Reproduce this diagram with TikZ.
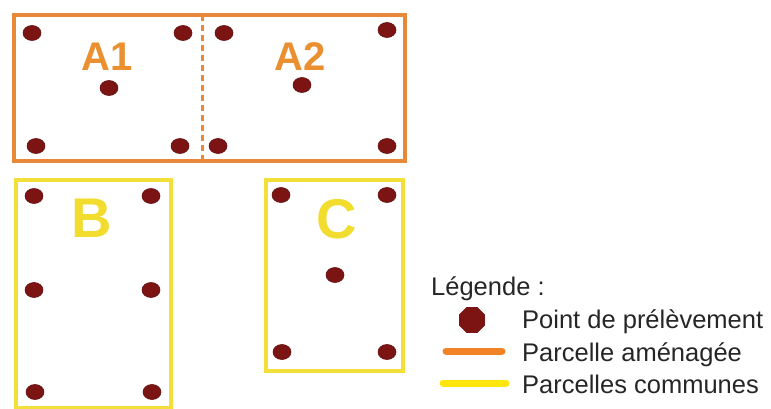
\documentclass[tikz,border=0pt]{standalone}
\usepackage{fontspec}
\setmainfont{Liberation Sans}
\usetikzlibrary{shapes.geometric}
\definecolor{amenage}{HTML}{E8893A}
\definecolor{amenageleg}{HTML}{F28226}
\definecolor{commun}{HTML}{F3DF3A}
\definecolor{communleg}{HTML}{FFE60F}
\definecolor{pointred}{HTML}{7C1414}
\definecolor{labelorange}{HTML}{EB9030}
\definecolor{labelyellow}{HTML}{F2DC2E}
\tikzset{
  sample/.style={ellipse, fill=pointred, draw=pointred!80!black, line width=0.6pt,
    minimum width=18pt, minimum height=15pt, inner sep=0pt},
  orangeplot/.style={draw=amenage, line width=3.5pt},
  yellowplot/.style={draw=commun, line width=3.5pt},
  plotlabelA/.style={font=\fontsize{40}{40}\selectfont\bfseries, text=labelorange, inner sep=0pt, anchor=base},
  plotlabelB/.style={font=\fontsize{56}{56}\selectfont\bfseries, text=labelyellow, inner sep=0pt, anchor=base},
  legtext/.style={font=\fontsize{25.5}{25.5}\selectfont, text=black!85, inner sep=0pt, anchor=base west},
}
\begin{document}
\begin{tikzpicture}[x=1pt, y=-1pt]
\useasboundingbox (0,0) rectangle (771,409);

% plots A1 and A2, split by a dashed boundary
\draw[orangeplot] (14,15) rectangle (405,161);
\draw[draw=amenage, line width=3pt, dash pattern=on 6pt off 4pt] (202,15) -- (202,161);
\node[plotlabelA] (lA1) at (107,71) {A1};
\node[plotlabelA] (lA2) at (300,71) {A2};

% plots B and C
\draw[yellowplot] (16,180) rectangle (171,408);
\draw[yellowplot] (266,180) rectangle (403,371);
\node[plotlabelB] (lB) at (92,237) {B};
\node[plotlabelB] (lC) at (337,238) {C};

% sampling points, plot A1
\node[sample] (a1nw) at (32,33) {};
\node[sample] (a1ne) at (183,33) {};
\node[sample] (a1c)  at (109,88) {};
\node[sample] (a1sw) at (36,146) {};
\node[sample] (a1se) at (180,146) {};
% plot A2
\node[sample] (a2nw) at (224,33) {};
\node[sample] (a2ne) at (387,30) {};
\node[sample] (a2c)  at (302,85) {};
\node[sample] (a2sw) at (218,146) {};
\node[sample] (a2se) at (387,146) {};
% plot B
\node[sample] (bnw) at (34,196) {};
\node[sample] (bne) at (151,196) {};
\node[sample] (bw)  at (34,290) {};
\node[sample] (be)  at (151,290) {};
\node[sample] (bsw) at (35,392) {};
\node[sample] (bse) at (152,392) {};
% plot C
\node[sample] (cnw) at (281,195) {};
\node[sample] (cne) at (387,195) {};
\node[sample] (cc)  at (335,275) {};
\node[sample] (csw) at (282,352) {};
\node[sample] (cse) at (387,352) {};

% legend
\node[legtext] (legtitle) at (431,295) {Légende :};
\node[regular polygon, regular polygon sides=8, fill=pointred, inner sep=0pt,
      minimum size=28pt] (legdot) at (472,320) {};
\node[legtext] (legpoint) at (522,328) {Point de prélèvement};
\coordinate (oa) at (446,351);
\coordinate (ob) at (502,351);
\draw[draw=amenageleg, line width=7pt, line cap=round] (oa) -- (ob);
\node[legtext] (legorange) at (522,361) {Parcelle aménagée};
\coordinate (ya) at (443,383);
\coordinate (yb) at (506,383);
\draw[draw=communleg, line width=7pt, line cap=round] (ya) -- (yb);
\node[legtext] (legyellow) at (522,393) {Parcelles communes};
\end{tikzpicture}
\end{document}
